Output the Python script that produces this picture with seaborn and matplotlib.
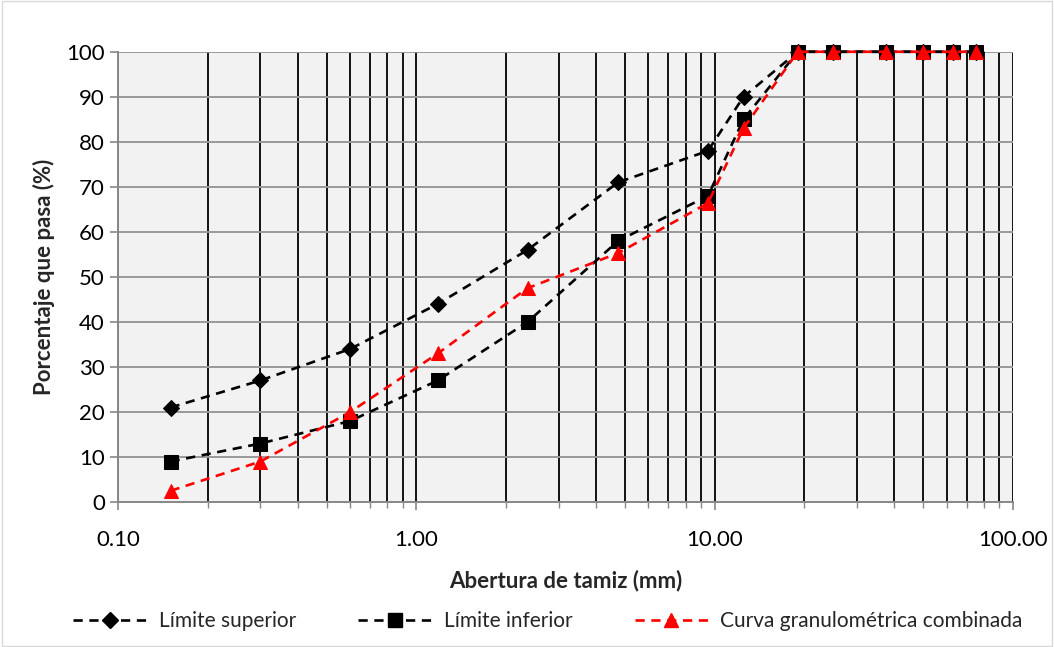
import matplotlib
matplotlib.use("Agg")
import matplotlib.pyplot as plt
import seaborn as sns
import pandas as pd
import numpy as np
from matplotlib.ticker import FixedLocator, FuncFormatter, LogLocator, NullFormatter
from matplotlib.lines import Line2D
from matplotlib.patches import Rectangle

sieves = [0.15, 0.3, 0.6, 1.18, 2.36, 4.75, 9.5, 12.5, 19, 25, 37.5, 50, 63, 75]
upper = [21, 27, 34, 44, 56, 71, 78, 90, 100, 100, 100, 100, 100, 100]
lower = [9, 13, 18, 27, 40, 58, 68, 85, 100, 100, 100, 100, 100, 100]
combined = [2.5, 9, 20, 33, 47.5, 55.3, 66.4, 83, 100, 100, 100, 100, 100, 100]
series_names = ["Límite superior", "Límite inferior", "Curva granulométrica combinada"]
x_ticks = [0.1, 1, 10, 100]
y_ticks = list(range(0, 101, 10))

sns.set_style("white")
plt.rcParams["font.family"] = ["Lato", "DejaVu Sans"]

df = pd.DataFrame({
    "x": sieves * 3,
    "y": upper + lower + combined,
    "serie": [series_names[0]] * len(sieves) + [series_names[1]] * len(sieves) + [series_names[2]] * len(sieves),
})

fig = plt.figure(figsize=(10.54, 6.47), dpi=100)
ax = fig.add_axes([0.112, 0.224, 0.849, 0.696])
ax.set_facecolor("#F2F2F2")

styles = {
    series_names[0]: dict(color="black", marker="D", ms=8),
    series_names[1]: dict(color="black", marker="s", ms=10),
    series_names[2]: dict(color="#FF0000", marker="^", ms=10),
}
handles = []
for name in series_names:
    st = styles[name]
    sub = df[df["serie"] == name]
    sns.lineplot(data=sub, x="x", y="y", ax=ax, color=st["color"], linestyle=(0, (3.5, 2.5)),
                 linewidth=1.9, marker=st["marker"], markersize=st["ms"],
                 markeredgecolor=st["color"], markerfacecolor=st["color"], zorder=5, clip_on=False)
    handles.append(Line2D([0], [0], color=st["color"], linestyle=(0, (3.5, 2.5)), linewidth=1.9,
                          marker=st["marker"], markersize=st["ms"], markerfacecolor=st["color"],
                          markeredgecolor=st["color"]))

ax.set_xscale("log")
ax.set_xlim(0.1, 100)
ax.set_ylim(0, 100)
ax.xaxis.set_major_locator(FixedLocator(x_ticks))
ax.xaxis.set_major_formatter(FuncFormatter(lambda v, p: f"{v:.2f}"))
ax.xaxis.set_minor_locator(LogLocator(base=10, subs=np.arange(2, 10)))
ax.xaxis.set_minor_formatter(NullFormatter())
ax.set_yticks(y_ticks)

ax.grid(True, which="major", axis="y", color="#999999", linewidth=1.4)
ax.grid(True, which="both", axis="x", color="black", linewidth=1.3)
ax.set_axisbelow(True)

for s in ["top", "right"]:
    ax.spines[s].set_visible(False)
ax.spines["left"].set_color("#888888")
ax.spines["left"].set_linewidth(1.4)
ax.spines["bottom"].set_color("#888888")
ax.spines["bottom"].set_linewidth(1.4)

ax.tick_params(axis="both", which="major", direction="out", length=6, color="#888888",
               width=1.2, labelsize=16, labelcolor="black", left=True, bottom=True)
ax.tick_params(axis="x", which="minor", direction="out", length=4, color="#888888", width=1.0, bottom=True)
ax.tick_params(axis="x", which="major", pad=14)

ax.set_xlabel("Abertura de tamiz (mm)", fontsize=16, fontweight="bold", labelpad=14)
ax.set_ylabel("Porcentaje que pasa (%)", fontsize=16, fontweight="bold", labelpad=8)
if ax.get_legend():
    ax.get_legend().remove()

fig.legend(handles, series_names, loc="center", bbox_to_anchor=(0.52, 0.04), ncol=3,
           frameon=False, fontsize=15, handlelength=3.5, columnspacing=3.0, handletextpad=0.6)

fig.patches.append(Rectangle((0.002, 0.002), 0.996, 0.996, transform=fig.transFigure,
                             fill=False, edgecolor="#D9D9D9", linewidth=1.0))

fig.savefig("out.png", dpi=100)
